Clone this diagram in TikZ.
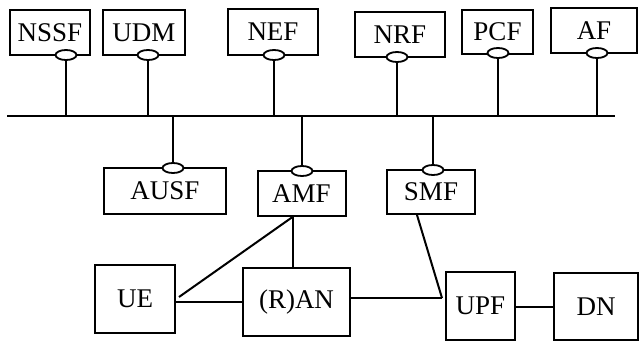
\documentclass[tikz,border=0pt]{standalone}
\usepackage{fontspec}
\setmainfont{Liberation Serif}
\usetikzlibrary{calc,shapes.geometric}
\begin{document}
\begin{tikzpicture}[x=1pt,y=-1pt,
  nfbox/.style={draw,line width=2pt,fill=white,inner sep=0pt,
    font=\fontsize{27}{32}\selectfont},
  port/.style={draw,ellipse,line width=1.8pt,fill=white,inner sep=0pt,
    minimum width=21pt,minimum height=10pt},
  link/.style={line width=2pt}]
\useasboundingbox (0,0) rectangle (639,343);

% network functions on the upper side of the bus
\node[nfbox,minimum width=80pt,minimum height=45pt] (nssf) at (50,32.5) {NSSF};
\node[nfbox,minimum width=82pt,minimum height=45pt] (udm) at (144,32.5) {UDM};
\node[nfbox,minimum width=90pt,minimum height=46pt] (nef) at (273,31.5) {NEF};
\node[nfbox,minimum width=90pt,minimum height=45pt] (nrf) at (400,34.5) {NRF};
\node[nfbox,minimum width=71pt,minimum height=44pt] (pcf) at (497.5,31.5) {PCF};
\node[nfbox,minimum width=86pt,minimum height=45pt] (af) at (594,30.5) {AF};

% network functions below the bus
\node[nfbox,minimum width=122pt,minimum height=46pt] (ausf) at (165,191) {AUSF};
\node[nfbox,minimum width=88pt,minimum height=45pt] (amf) at (301.5,193.5) {AMF};
\node[nfbox,minimum width=88pt,minimum height=44pt] (smf) at (431,192) {SMF};

% user plane
\node[nfbox,minimum width=80pt,minimum height=68pt] (ue) at (135,299) {UE};
\node[nfbox,minimum width=107pt,minimum height=68pt] (ran) at (296.5,302) {(R)AN};
\node[nfbox,minimum width=69pt,minimum height=68pt] (upf) at (480.5,306) {UPF};
\node[nfbox,minimum width=84pt,minimum height=67pt] (dn) at (596,306.5) {DN};

% service-based bus
\coordinate (busL) at (7,116);
\coordinate (busR) at (615,116);
\draw[link] (busL) -- (busR);

% service interface points
\node[port] (nssfp) at (66,55) {};
\node[port] (udmp) at (148,55) {};
\node[port] (nefp) at (274,55) {};
\node[port] (nrfp) at (397,57) {};
\node[port] (pcfp) at (498,53) {};
\node[port] (afp) at (597,53) {};
\node[port] (ausfp) at (173,168) {};
\node[port] (amfp) at (302,171) {};
\node[port] (smfp) at (433,170) {};

\foreach \p in {nssfp,udmp,nefp,nrfp,pcfp,afp}
  \draw[link] (\p.south) -- (\p.south |- busL);
\foreach \p in {ausfp,amfp,smfp}
  \draw[link] (\p.north) -- (\p.north |- busL);

% reference points between UE, access network, UPF and DN
\coordinate (amfj) at ([xshift=-9pt]amf.south);
\coordinate (uej) at ([xshift=3pt,yshift=2pt]ue.east);
\coordinate (upfj) at ([xshift=-3pt,yshift=8pt]upf.west);
\coordinate (smfj) at ([xshift=-14pt]smf.south);

\draw[link] (uej) -- (amfj);
\draw[link] (amfj) -- (amfj |- ran.north);
\draw[link] ([yshift=-3pt]ue.east) -- ([yshift=-3pt]ue.east -| ran.west);
\draw[link] (ran.east |- upfj) -- (upfj);
\draw[link] (smfj) -- (upfj);
\draw[link] ([yshift=-1pt]upf.east) -- ([yshift=-1pt]upf.east -| dn.west);
\end{tikzpicture}
\end{document}
